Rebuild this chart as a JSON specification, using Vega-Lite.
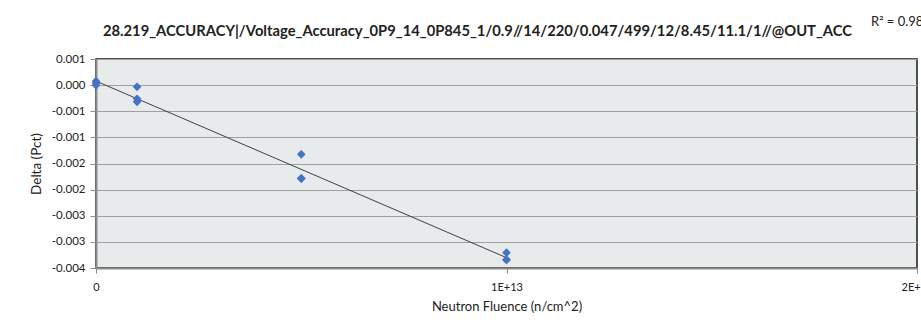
{
  "$schema": "https://vega.github.io/schema/vega-lite/v6.json",
  "width": 821,
  "height": 209,
  "autosize": {"type": "none"},
  "padding": {"left": 96, "top": 59, "right": 4, "bottom": 65},
  "background": "white",
  "title": {
    "text": "28.219_ACCURACY|/Voltage_Accuracy_0P9_14_0P845_1/0.9//14/220/0.047/499/12/8.45/11.1/1//@OUT_ACC",
    "font": "Lato",
    "fontSize": 14.75,
    "fontWeight": "bold",
    "color": "#222222",
    "anchor": "middle",
    "dx": -29,
    "offset": -23
  },
  "data": {
    "values": [
      {"fluence": 0, "delta": 0.000076},
      {"fluence": 0, "delta": 0.000038},
      {"fluence": 0, "delta": 0.0},
      {"fluence": 1e12, "delta": -0.000033},
      {"fluence": 1e12, "delta": -0.00026},
      {"fluence": 1e12, "delta": -0.00032},
      {"fluence": 5e12, "delta": -0.001325},
      {"fluence": 5e12, "delta": -0.001784},
      {"fluence": 5e12, "delta": -0.00179},
      {"fluence": 1e13, "delta": -0.003207},
      {"fluence": 1e13, "delta": -0.003346},
      {"fluence": 1e13, "delta": -0.00334}
    ]
  },
  "encoding": {
    "x": {
      "field": "fluence",
      "type": "quantitative",
      "title": "Neutron Fluence (n/cm^2)",
      "scale": {"domain": [0, 2e13], "nice": false},
      "axis": {
        "values": [0, 1e13, 2e13],
        "labelExpr": "datum.value == 0 ? '0' : replace(format(datum.value, '.0e'), 'e', 'E')",
        "labelFlush": false,
        "labelBound": false,
        "grid": false,
        "domainColor": "#8c8c8c",
        "domainWidth": 2,
        "tickColor": "#8c8c8c",
        "tickSize": 5,
        "labelPadding": 8,
        "labelFont": "Lato",
        "labelFontSize": 11,
        "labelColor": "#222222",
        "titleFont": "Lato",
        "titleFontSize": 13,
        "titleFontWeight": "normal",
        "titleColor": "#222222",
        "titlePadding": 8
      }
    },
    "y": {
      "field": "delta",
      "type": "quantitative",
      "title": "Delta (Pct)",
      "scale": {"domain": [-0.0035, 0.0005], "nice": false, "zero": false},
      "axis": {
        "values": [0.0005, 0, -0.0005, -0.001, -0.0015, -0.002, -0.0025, -0.003, -0.0035],
        "labelExpr": "replace(format(datum.value, '.3f'), '\u2212', '-')",
        "labelFlush": false,
        "grid": true,
        "gridColor": "#a0a0a0",
        "gridWidth": 1,
        "domainColor": "#8c8c8c",
        "domainWidth": 2,
        "tickColor": "#8c8c8c",
        "tickSize": 6,
        "labelPadding": 5,
        "labelFont": "Lato",
        "labelFontSize": 11.5,
        "labelColor": "#222222",
        "titleFont": "Lato",
        "titleFontSize": 13.5,
        "titleFontWeight": "normal",
        "titleColor": "#222222",
        "titlePadding": 8
      }
    }
  },
  "layer": [
    {
      "transform": [
        {"regression": "delta", "on": "fluence", "extent": [0, 1e13]}
      ],
      "mark": {"type": "line", "color": "#404040", "strokeWidth": 1}
    },
    {
      "mark": {"type": "point", "shape": "diamond", "filled": true, "color": "#4472C4", "opacity": 1, "size": 75}
    },
    {
      "transform": [
        {"window": [{"op": "row_number", "as": "rowNum"}]},
        {"filter": "datum.rowNum == 1"}
      ],
      "mark": {"type": "text", "text": "R² = 0.9846", "clip": false, "align": "left", "baseline": "middle", "font": "Lato", "fontSize": 13, "color": "#222222"},
      "encoding": {
        "x": {"datum": 1.888e13, "type": "quantitative"},
        "y": {"datum": 0.001207, "type": "quantitative"}
      }
    }
  ],
  "config": {
    "view": {"fill": "#e7ebeb", "stroke": "#1a1a1a", "strokeWidth": 1.5}
  }
}
